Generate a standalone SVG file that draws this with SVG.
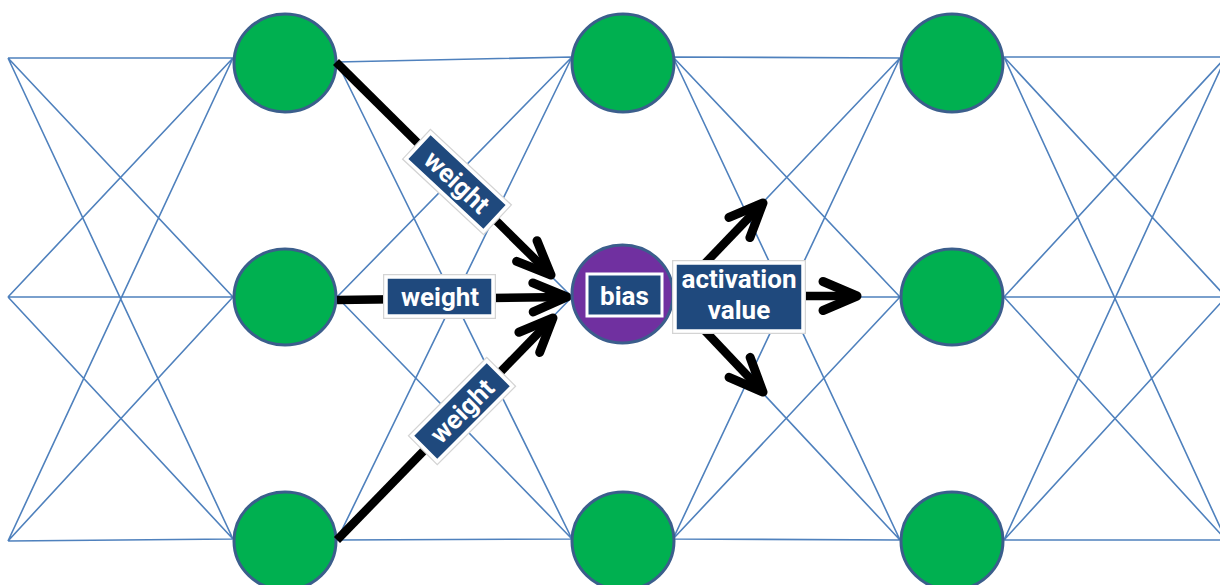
<svg xmlns="http://www.w3.org/2000/svg" width="1220" height="585" viewBox="0 0 1220 585">
<style>
.ln{stroke:#4F81BD;stroke-width:1.6;fill:none}
.node{fill:#00B050;stroke:#3B5E8C;stroke-width:3}
.bias{fill:#7030A0;stroke:#3B5E8C;stroke-width:3}
.arr{stroke:#000;stroke-width:8.5;fill:none;marker-end:url(#ah)}
.lbl{fill:#1F497D;stroke:#fff;stroke-width:3.5}
.lblo{fill:none;stroke:#d4d4d4;stroke-width:6}
.t{fill:#fff;font-family:Roboto,"Liberation Sans",sans-serif;font-weight:700;font-size:26px;text-anchor:middle}
</style>
<defs>
<marker id="ah" markerUnits="userSpaceOnUse" markerWidth="60" markerHeight="60" viewBox="-40 -30 60 60" refX="0" refY="0" orient="auto" overflow="visible">
<path d="M-34,-14.5 L0,0 L-34,14.5" fill="none" stroke="#000" stroke-width="9" stroke-linecap="round" stroke-linejoin="round"/>
</marker>
</defs>
<rect width="1220" height="585" fill="#fff"/>
<g id="connectors">
<path class="ln" d="M8,58 L233,58 M8,58 L233,297 M8,58 L233,539 M8,297 L233,58 M8,297 L233,297 M8,297 L233,539 M8,541 L233,58 M8,541 L233,297 M8,541 L233,539"/>
<path class="ln" d="M337,62 L572,57 M337,62 L572,297 M337,62 L572,539 M337,297 L572,57 M337,297 L572,297 M337,297 L572,539 M337,540 L572,57 M337,540 L572,297 M337,540 L572,539"/>
<path class="ln" d="M673,57 L900,58 M673,57 L900,297 M673,57 L900,540 M673,297 L900,58 M673,297 L900,297 M673,297 L900,540 M673,539 L900,58 M673,539 L900,297 M673,539 L900,540"/>
<path class="ln" d="M1004,57 L1226,57 M1004,57 L1226,297 M1004,57 L1226,540 M1004,297 L1226,57 M1004,297 L1226,297 M1004,297 L1226,540 M1004,540 L1226,57 M1004,540 L1226,297 M1004,540 L1226,540"/>
</g>
<g id="n1"><ellipse class="node" cx="285" cy="63" rx="51" ry="49"/></g>
<g id="n2"><ellipse class="node" cx="285" cy="297" rx="51" ry="48"/></g>
<g id="n3"><ellipse class="node" cx="285" cy="541" rx="51" ry="49"/></g>
<g id="n4"><ellipse class="node" cx="623" cy="63" rx="51" ry="49"/></g>
<g id="n6"><ellipse class="node" cx="623" cy="541" rx="51" ry="49"/></g>
<g id="n7"><ellipse class="node" cx="952" cy="63" rx="51" ry="49"/></g>
<g id="n8"><ellipse class="node" cx="952" cy="297" rx="51" ry="48"/></g>
<g id="n9"><ellipse class="node" cx="952" cy="541" rx="51" ry="49"/></g>
<g id="arrows">
<path class="arr" d="M336,62 L551,275"/>
<path class="arr" d="M337,300 L567,297"/>
<path class="arr" d="M337,540 L553,318"/>
<path class="arr" d="M690,279 L763,203"/>
<path class="arr" d="M800,296 L857,296"/>
<path class="arr" d="M690,315 L763,392"/>
</g>
<g id="bias">
<ellipse class="bias" cx="622.5" cy="294" rx="50.5" ry="49"/>
<rect x="587" y="274" width="75" height="42" fill="#1F497D" stroke="#fff" stroke-width="3"/>
<text class="t" x="624.5" y="305">bias</text>
</g>
<g id="w1" transform="translate(457,182) rotate(43)">
<rect class="lblo" x="-53" y="-18" width="106" height="36"/>
<rect class="lbl" x="-53" y="-18" width="106" height="36"/>
<text class="t" x="0" y="9">weight</text>
</g>
<g id="w2">
<rect class="lblo" x="386" y="277" width="107" height="39"/>
<rect class="lbl" x="386" y="277" width="107" height="39"/>
<text class="t" x="440" y="306">weight</text>
</g>
<g id="w3" transform="translate(462,411) rotate(-45)">
<rect class="lblo" x="-53" y="-18" width="106" height="36"/>
<rect class="lbl" x="-53" y="-18" width="106" height="36"/>
<text class="t" x="0" y="9">weight</text>
</g>
<g id="act">
<rect class="lblo" x="675" y="263" width="128" height="68"/>
<rect class="lbl" x="675" y="263" width="128" height="68" stroke-width="3"/>
<text class="t" x="739" y="288">activation</text>
<text class="t" x="739" y="319">value</text>
</g>
</svg>
